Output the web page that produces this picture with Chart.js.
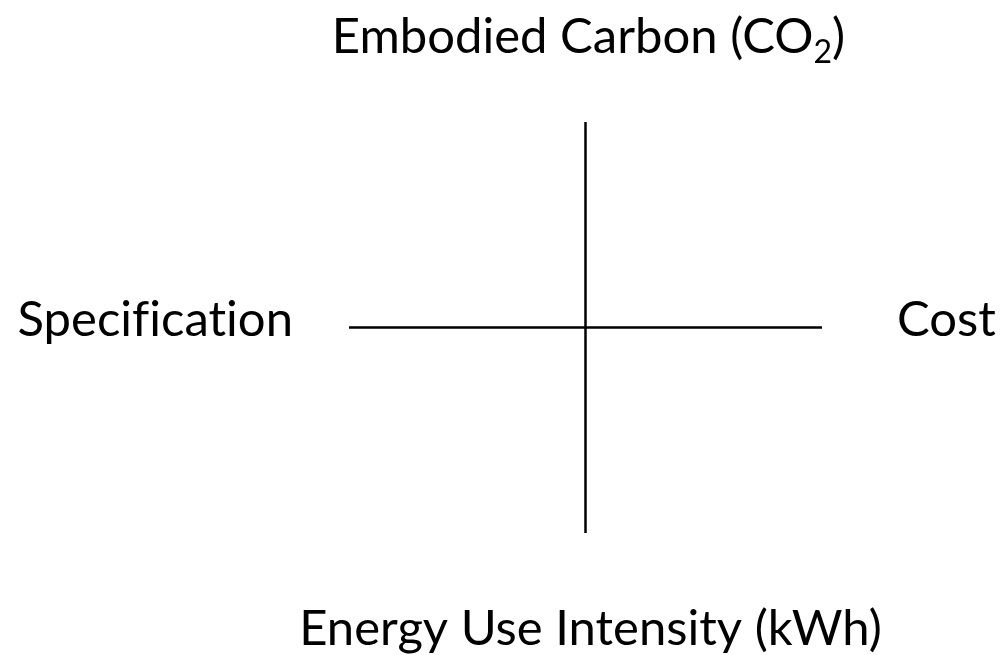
<!DOCTYPE html>
<html>
<head>
<meta charset="utf-8">
<script src="https://cdn.jsdelivr.net/npm/chart.js@4"></script>
<style>
    html, body { margin: 0; padding: 0; background: #fff; }
    #wrap { width: 1000px; height: 655px; }
</style>
</head>
<body>
<div id="wrap"><canvas id="crossChart"></canvas></div>
<script>
// the two arms of the cross, in axis units
const armEnds = [-1, 1];
const armZero = [0, 0];

const topLabel = ['Embodied Carbon (CO', '2', ')'];
const bottomLabel = 'Energy Use Intensity (kWh)';
const leftLabel = 'Specification';
const rightLabel = 'Cost';

const fontFamily = 'Lato, "Open Sans", sans-serif';

// draws the four captions round the cross
const captionPlugin = {
    id: 'captions',
    afterDraw(chart) {
        const ctx = chart.ctx;
        const area = chart.chartArea;
        const cx = (area.left + area.right) / 2;
        const cy = (area.top + area.bottom) / 2;

        ctx.save();
        ctx.fillStyle = '#000';
        ctx.textBaseline = 'alphabetic';
        // a tiny spacing keeps the "fi" from turning into a ligature
        if ('letterSpacing' in ctx) ctx.letterSpacing = '0.01px';
        ctx.font = `49px ${fontFamily}`;

        ctx.textAlign = 'right';
        ctx.fillText(leftLabel, area.left - 56, cy + 8);

        ctx.textAlign = 'left';
        ctx.fillText(rightLabel, area.right + 75, cy + 8);

        ctx.textAlign = 'center';
        ctx.fillText(bottomLabel, cx + 5, area.bottom + 112);

        // top label with a subscript 2
        ctx.textAlign = 'left';
        const w1 = ctx.measureText(topLabel[0]).width;
        const w3 = ctx.measureText(topLabel[2]).width;
        ctx.font = `32px ${fontFamily}`;
        const w2 = ctx.measureText(topLabel[1]).width;
        let x = cx + 3 - (w1 + w2 + w3) / 2;
        const base = area.top - 69;
        ctx.font = `49px ${fontFamily}`;
        ctx.fillText(topLabel[0], x, base);
        x += w1;
        ctx.font = `32px ${fontFamily}`;
        ctx.fillText(topLabel[1], x, base + 10);
        x += w2;
        ctx.font = `49px ${fontFamily}`;
        ctx.fillText(topLabel[2], x, base);
        ctx.restore();
    }
};

new Chart(document.getElementById('crossChart'), {
    type: 'scatter',
    data: {
        datasets: [{
            label: 'horizontal',
            data: armEnds.map((v, i) => ({ x: v, y: armZero[i] })),
            showLine: true,
            borderColor: '#000',
            borderWidth: 2.5,
            pointRadius: 0
        }, {
            label: 'vertical',
            data: armEnds.map((v, i) => ({ x: armZero[i], y: v })),
            showLine: true,
            borderColor: '#000',
            borderWidth: 2.5,
            pointRadius: 0
        }]
    },
    options: {
        responsive: true,
        maintainAspectRatio: false,
        animation: false,
        layout: {
            padding: { left: 349, right: 178, top: 122, bottom: 122 }
        },
        plugins: {
            legend: { display: false },
            tooltip: { enabled: false }
        },
        scales: {
            x: { type: 'linear', min: -1, max: 1, display: false },
            y: { type: 'linear', min: -1, max: 1, display: false }
        }
    },
    plugins: [captionPlugin]
});
</script>
</body>
</html>
